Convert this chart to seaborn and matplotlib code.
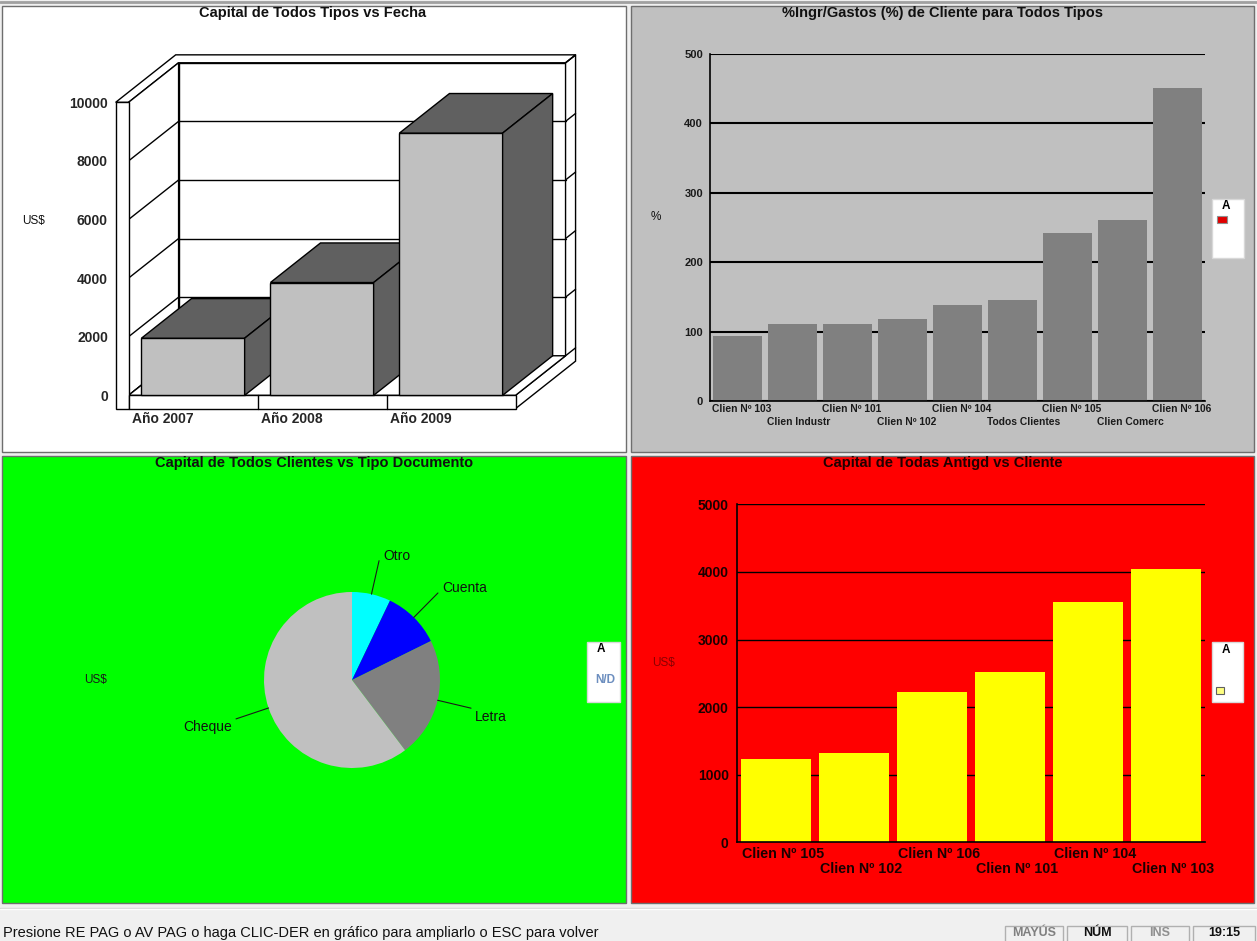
import matplotlib
matplotlib.use('Agg')
import matplotlib.pyplot as plt
from matplotlib.patches import Polygon, Rectangle
import numpy as np
import seaborn as sns

# Data
years = ['Año 2007', 'Año 2008', 'Año 2009']
capital_year = [1950, 3850, 8950]
year_ticks = [0, 2000, 4000, 6000, 8000, 10000]

clientes_pct = ['Clien Nº 103', 'Clien Industr', 'Clien Nº 101', 'Clien Nº 102', 'Clien Nº 104',
                'Todos Clientes', 'Clien Nº 105', 'Clien Comerc', 'Clien Nº 106']
pct = [94, 111, 111, 118, 138, 145, 242, 261, 451]
pct_ticks = [0, 100, 200, 300, 400, 500]

doc_types = ['Otro', 'Cuenta', 'Letra', 'Cheque']
doc_capital = [7.1, 10.6, 22.0, 60.3]
doc_colors = ['#00FFFF', '#0000FF', '#808080', '#C0C0C0']

clientes_ant = ['Clien Nº 105', 'Clien Nº 102', 'Clien Nº 106', 'Clien Nº 101', 'Clien Nº 104', 'Clien Nº 103']
capital_ant = [1230, 1320, 2220, 2520, 3550, 4040]
ant_ticks = [0, 1000, 2000, 3000, 4000, 5000]

status_text = 'Presione RE PAG o AV PAG o haga CLIC-DER en gráfico para ampliarlo o ESC para volver'
status_keys = ['MAYÚS', 'NÚM', 'INS', '19:15']

sns.set_style('white')
plt.rcParams['font.family'] = ['Liberation Sans', 'DejaVu Sans']

W, H = 1257, 941
fig = plt.figure(figsize=(W / 100, H / 100), dpi=100, facecolor='#F0F0F0')


def rect_px(x0, y0, x1, y1):
    return [x0 / W, 1 - y1 / H, (x1 - x0) / W, (y1 - y0) / H]


def frect(x0, y0, x1, y1, **kw):
    fig.add_artist(Rectangle((x0 / W, 1 - y1 / H), (x1 - x0) / W, (y1 - y0) / H,
                             transform=fig.transFigure, **kw))


def ftext(x, y, s, **kw):
    fig.text(x / W, 1 - y / H, s, **kw)


def fline(x0, y0, x1, y1, **kw):
    fig.add_artist(plt.Line2D([x0 / W, x1 / W], [1 - y0 / H, 1 - y1 / H],
                              transform=fig.transFigure, **kw))


# window chrome and the four panels
fline(0, 2, W, 2, color='#A0A0A0', lw=2, zorder=0.2)
panel_kw = dict(edgecolor='#6E6E6E', lw=1, zorder=0.3)
frect(1.5, 6, 625.5, 452, facecolor='white', **panel_kw)
frect(631, 6, 1254, 452, facecolor='#C0C0C0', **panel_kw)
frect(1.5, 456, 625.5, 903, facecolor='#00FF00', **panel_kw)
frect(631, 456, 1254, 903, facecolor='#FF0000', **panel_kw)

title_kw = dict(ha='center', va='center', fontsize=10.5, fontweight='bold', color='#111111')

# ---------------- top left: pseudo 3D bars ----------------
ax1 = fig.add_axes(rect_px(107.9, 49.6, 580, 410))
ax1.set_zorder(2)
ax1.patch.set_alpha(0)
sns.barplot(x=years, y=capital_year, color='#C0C0C0', saturation=1, width=0.8,
            edgecolor='black', linewidth=1, errorbar=None, ax=ax1)
bars = list(ax1.patches)
ax1.set_xlim(-0.66, 3.0)
ax1.set_ylim(-500, 11800)

DX, DY = 0.388, 1351      # depth offset in data units
TX, T = 0.1, 454          # wall and floor thickness
xL, xR, VMAX = -0.5, len(years) - 0.5, year_ticks[-1]


def P(x, v, d):
    return (x + d * DX, v + d * DY)


def poly(pts, fc='white', z=2):
    ax1.add_patch(Polygon(pts, closed=True, facecolor=fc, edgecolor='black', lw=1, zorder=z, clip_on=False))


def seg(a, b, z=2.1):
    ax1.plot([a[0], b[0]], [a[1], b[1]], color='black', lw=1, zorder=z, clip_on=False)


poly([P(xL, 0, 1), P(xR, 0, 1), P(xR, VMAX, 1), P(xL, VMAX, 1)])
for v in year_ticks[1:-1]:
    seg(P(xL, v, 1), P(xR, v, 1))
poly([P(xR, -T, 0), P(xR, 0, 0), P(xR, 0, 1), P(xR, VMAX, 1), P(xR, VMAX, 1.2), P(xR, -T, 1.2)])
for v in year_ticks:
    seg(P(xR, v, 1), P(xR, v, 1.2))
poly([P(xL - TX, VMAX, 0), P(xL, VMAX, 0), P(xL, VMAX, 1), P(xR, VMAX, 1),
      P(xR, VMAX, 1.2), P(xL - TX, VMAX, 1.2)])
poly([P(xL, 0, 0), P(xL, VMAX, 0), P(xL, VMAX, 1), P(xL, 0, 1)])
for v in year_ticks[:-1]:
    seg(P(xL, v, 0), P(xL, v, 1))
poly([P(xL, 0, 0), P(xR, 0, 0), P(xR, 0, 1), P(xL, 0, 1)], z=2.2)
ax1.add_patch(Rectangle((xL - TX, -T), TX, VMAX + T, facecolor='white', edgecolor='black',
                        lw=1, zorder=2.3, clip_on=False))
ax1.add_patch(Rectangle((xL, -T), xR - xL, T, facecolor='white', edgecolor='black',
                        lw=1, zorder=2.3, clip_on=False))
for i in range(1, len(years)):
    seg((i - 0.5, -T), (i - 0.5, 0), z=2.4)

for i, b in enumerate(bars):
    x0, x1, h = b.get_x(), b.get_x() + b.get_width(), b.get_height()
    b.set_zorder(10 + i)
    poly([(x0, h), (x1, h), (x1 + DX, h + DY), (x0 + DX, h + DY)], fc='#606060', z=10 + i)
    poly([(x1, 0), (x1, h), (x1 + DX, h + DY), (x1 + DX, DY)], fc='#606060', z=10 + i)

for s in ax1.spines.values():
    s.set_visible(False)
ax1.set_yticks(year_ticks, [str(t) for t in year_ticks], fontsize=10, fontweight='bold')
ax1.set_xticks(np.arange(len(years)) - 0.47, years, fontsize=10, fontweight='bold', ha='left')
ax1.tick_params(length=0)
ax1.tick_params(axis='y', pad=0)
ax1.tick_params(axis='x', pad=1.5)
ax1.set_xlabel('')
ax1.set_ylabel('')
ftext(313, 13, 'Capital de Todos Tipos vs Fecha', **title_kw)
ftext(34, 221, 'US$', ha='center', va='center', fontsize=8.5, color='#111111')


def flat_bars(ax, names, values, color, width, lbl_size, lbl_offset, pads, grid_lw, lbl_color):
    sns.barplot(x=names, y=values, color=color, saturation=1, width=width,
                linewidth=0, errorbar=None, ax=ax)
    ax.set_xlim(-0.5, len(names) - 0.5)
    ax.patch.set_alpha(0)
    ax.set_zorder(2)
    ax.yaxis.grid(True, color='black', lw=grid_lw)
    ax.set_axisbelow(True)
    for side in ['top', 'right']:
        ax.spines[side].set_visible(False)
    for side in ['left', 'bottom']:
        ax.spines[side].set_color('black')
        ax.spines[side].set_linewidth(1.2)
    ax.set_xticks(np.arange(len(names)) + 0.5)
    ax.set_xticklabels([])
    ax.tick_params(axis='x', which='major', direction='inout', length=9, width=1, color='black')
    lbl_kw = dict(ha='left', fontsize=lbl_size, fontweight='bold', color=lbl_color)
    pos = np.arange(len(names)) - lbl_offset
    # labels alternate between two rows
    ax.set_xticks(pos[::2], minor=True)
    ax.set_xticklabels(names[::2], minor=True, **lbl_kw)
    ax.tick_params(axis='x', which='minor', length=0, pad=pads[0])
    sec = ax.secondary_xaxis('bottom')
    sec.set_xticks(pos[1::2], names[1::2], **lbl_kw)
    sec.tick_params(axis='x', length=0, pad=pads[1])
    sec.spines['bottom'].set_visible(False)
    ax.set_xlabel('')
    ax.set_ylabel('')


# ---------------- top right ----------------
ax2 = fig.add_axes(rect_px(710, 54, 1205, 401))
flat_bars(ax2, clientes_pct, pct, '#808080', 0.88, 7.4, 0.46, (2.5, 11.8), 1.5, '#1a1a1a')
ax2.set_ylim(0, 500)
ax2.set_yticks(pct_ticks, [str(t) for t in pct_ticks], fontsize=8, fontweight='bold', color='#1a1a1a')
ax2.tick_params(axis='y', direction='out', length=3, width=1, color='black', pad=2)
ftext(943, 13, '%Ingr/Gastos (%) de Cliente para Todos Tipos', **title_kw)
ftext(656, 217, '%', ha='center', va='center', fontsize=8.5, color='#111111')
frect(1212, 199, 1244, 258, facecolor='white', edgecolor='#D8D8D8', lw=1, zorder=3)
ftext(1226, 206, 'A', ha='center', va='center', fontsize=8.5, fontweight='bold', color='black', zorder=4)
frect(1217, 216, 1227, 223, facecolor='#E00000', edgecolor='#909090', lw=0.8, zorder=4)

# ---------------- bottom left: pie ----------------
R = 88
ax3 = fig.add_axes(rect_px(352 - 200, 680 - 200, 352 + 200, 680 + 200))
ax3.set_zorder(2)
wedges, _ = ax3.pie(doc_capital, colors=doc_colors, startangle=90, counterclock=False,
                    radius=1, wedgeprops=dict(linewidth=0))
lim = 200 / R
ax3.set_xlim(-lim, lim)
ax3.set_ylim(-lim, lim)
ax3.set_aspect('equal')
ax3.axis('off')
for w, name in zip(wedges, doc_types):
    ang = np.deg2rad((w.theta1 + w.theta2) / 2)
    c, s = np.cos(ang), np.sin(ang)
    ax3.plot([c * 1.0, c * 1.39], [s * 1.0, s * 1.39], color='#1a1a1a', lw=0.8)
    ax3.text(c * 1.39 + np.sign(c) * 0.045, s * 1.39 + (0.055 if s > 0 else -0.095), name,
             ha='left' if c > 0 else 'right', va='center', fontsize=10, color='#111111')
ftext(314, 463, 'Capital de Todos Clientes vs Tipo Documento', **title_kw)
ftext(96, 680, 'US$', ha='center', va='center', fontsize=8.5, color='#1a1a1a')
frect(587, 642, 620, 702, facecolor='white', edgecolor='#D8D8D8', lw=1, zorder=3)
ftext(601, 649, 'A', ha='center', va='center', fontsize=8.5, fontweight='bold', color='black', zorder=4)
ftext(605, 680, 'N/D', ha='center', va='center', fontsize=8.5, fontweight='bold', color='#6C8EBF', zorder=4)

# ---------------- bottom right ----------------
ax4 = fig.add_axes(rect_px(737, 504.3, 1205, 842.3))
flat_bars(ax4, clientes_ant, capital_ant, '#FFFF00', 0.89, 10.3, 0.44, (3.2, 14.4), 1.0, '#1a0000')
ax4.set_ylim(0, 5000)
ax4.set_yticks(ant_ticks, [str(t) for t in ant_ticks], fontsize=10, fontweight='bold', color='#1a0000')
ax4.tick_params(axis='y', length=0, pad=6)
ftext(943, 463, 'Capital de Todas Antigd vs Cliente', **dict(title_kw, color='#200000'))
ftext(664, 663, 'US$', ha='center', va='center', fontsize=8.5, color='#8B0000')
frect(1212, 642, 1243, 702, facecolor='white', edgecolor='#D8D8D8', lw=1, zorder=3)
ftext(1226, 650, 'A', ha='center', va='center', fontsize=8.5, fontweight='bold', color='black', zorder=4)
frect(1216, 687, 1224, 694, facecolor='#FFFF80', edgecolor='#606060', lw=0.8, zorder=4)

# ---------------- status bar ----------------
fline(0, 907.5, W, 907.5, color='#D4D4D4', lw=1, zorder=0.2)
fline(0, 909, W, 909, color='white', lw=1, zorder=0.2)
ftext(3, 933, status_text, ha='left', va='center', fontsize=10.5, color='#111111')
box_x = [(1005, 1063), (1067, 1127), (1131, 1189), (1193, 1255)]
key_colors = ['#808080', '#111111', '#909090', '#111111']
for (x0, x1), key, col in zip(box_x, status_keys, key_colors):
    frect(x0, 926, x1, 942, facecolor='none', edgecolor='#B0B0B0', lw=1, zorder=3)
    ftext((x0 + x1) / 2, 933.5, key, ha='center', va='center', fontsize=9,
          fontweight='bold', color=col, zorder=4)

fig.savefig('out.png', dpi=100, facecolor=fig.get_facecolor())
